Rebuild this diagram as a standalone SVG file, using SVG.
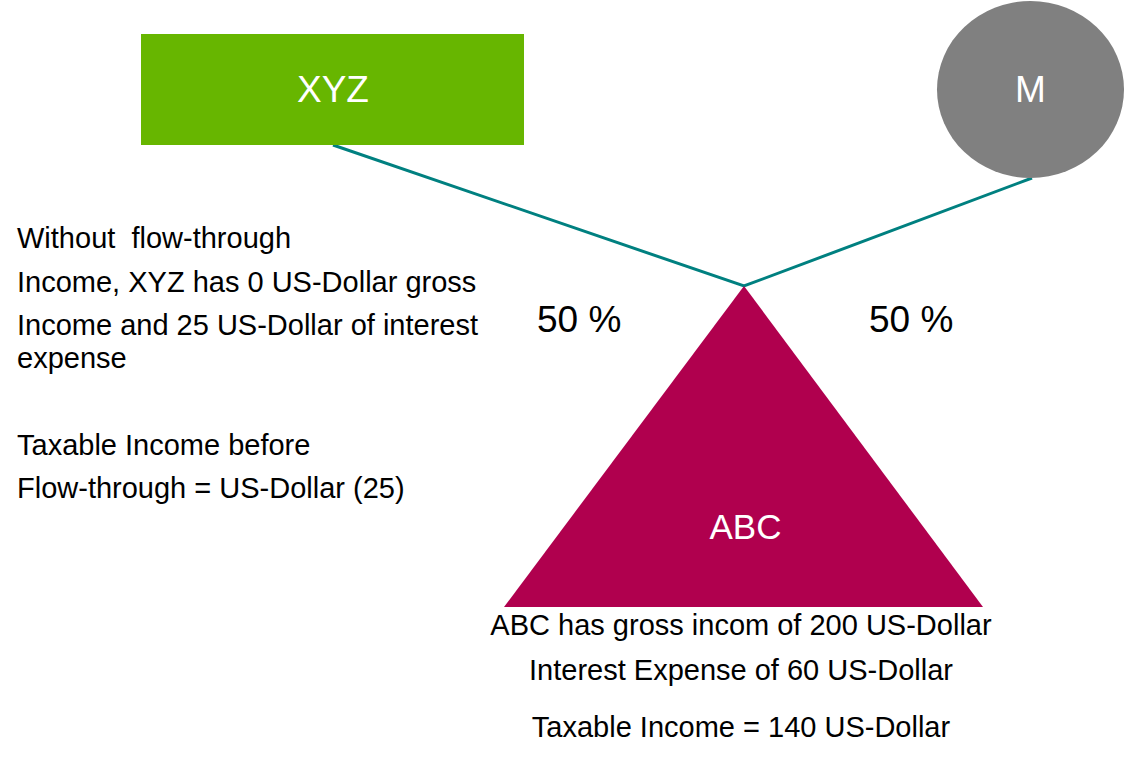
<svg xmlns="http://www.w3.org/2000/svg" width="1125" height="763" viewBox="0 0 1125 763">
<style>
text{font-family:"Liberation Sans",Arial,sans-serif;}
.lbl{fill:#ffffff;font-size:37px;text-anchor:middle;}
.pct{fill:#000000;font-size:37px;}
.body{fill:#000000;font-size:29px;white-space:pre;}
.mid{text-anchor:middle;}
.conn{fill:none;stroke:#008080;stroke-width:3;stroke-linejoin:miter;}
</style>
<rect width="1125" height="763" fill="#ffffff"/>
<g id="connectors">
<polyline class="conn" points="333,145 744,286 1032,178"/>
</g>
<g id="node-xyz">
<rect x="141" y="34" width="383" height="111" fill="#67b600"/>
<text class="lbl" x="333" y="102">XYZ</text>
</g>
<g id="node-m">
<ellipse cx="1030.5" cy="89.5" rx="93.5" ry="88.5" fill="#808080"/>
<text class="lbl" x="1030.5" y="102">M</text>
</g>
<g id="node-abc">
<polygon points="744,286 504,607 983,607" fill="#b0004e"/>
<text class="lbl" x="745.5" y="539" style="font-size:35px">ABC</text>
</g>
<g id="labels">
<text class="pct" x="537" y="332">50 %</text>
<text class="pct" x="869" y="332">50 %</text>
</g>
<g id="left-text">
<text class="body" x="17" y="248" xml:space="preserve">Without  flow-through</text>
<text class="body" x="17" y="292">Income, XYZ has 0 US-Dollar gross</text>
<text class="body" x="17" y="335">Income and 25 US-Dollar of interest</text>
<text class="body" x="17" y="368">expense</text>
<text class="body" x="17" y="455">Taxable Income before</text>
<text class="body" x="17" y="498">Flow-through = US-Dollar (25)</text>
</g>
<g id="bottom-text">
<text class="body mid" x="741" y="635">ABC has gross incom of 200 US-Dollar</text>
<text class="body mid" x="741" y="680">Interest Expense of 60 US-Dollar</text>
<text class="body mid" x="741" y="737">Taxable Income = 140 US-Dollar</text>
</g>
</svg>
